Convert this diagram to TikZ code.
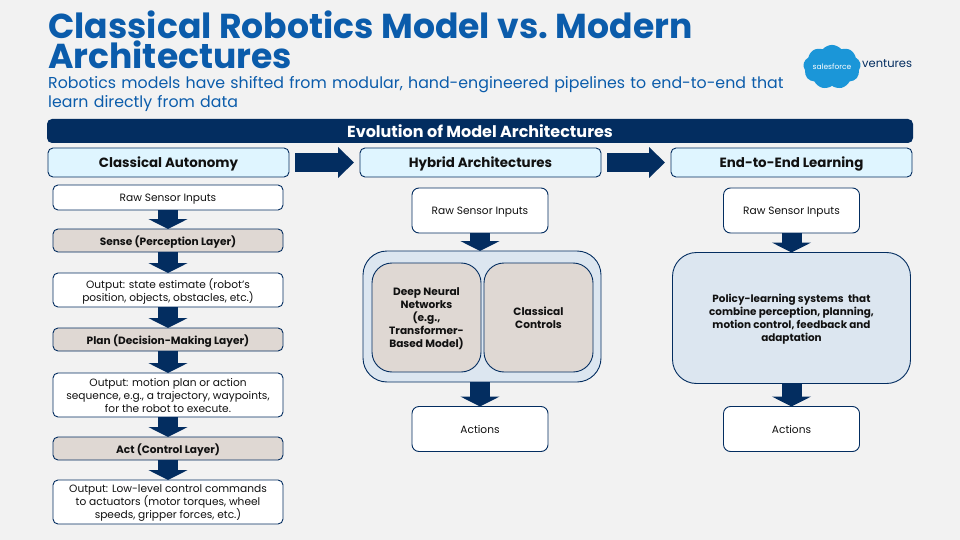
\documentclass[tikz,border=0pt]{standalone}
\usepackage{fontspec}
\setmainfont{Poppins}
\usepackage{xcolor}
\usetikzlibrary{arrows.meta,positioning,shapes.symbols}
\definecolor{navy}{HTML}{032D60}
\definecolor{titleblue}{HTML}{0B5CAB}
\definecolor{headfill}{HTML}{DFF5FF}
\definecolor{taupe}{HTML}{DFD8D3}
\definecolor{paleblue}{HTML}{DCE6F0}
\definecolor{cloudblue}{HTML}{1B96D8}
\definecolor{inktext}{HTML}{111111}

\begin{document}
\begin{tikzpicture}[
  x=1pt,y=-1pt,
  node distance=19pt,
  textbox/.style={inner sep=0pt,align=left,anchor=north west},
  box/.style={draw=navy,line width=0.9pt,rounded corners=5pt,align=center,inner sep=0pt,outer sep=0pt,text depth=0pt,text=inktext,font=\fontsize{10.6}{13}\selectfont},
  inbox/.style={box,fill=white,minimum width=230pt},
  layer/.style={box,fill=taupe,minimum width=230pt,minimum height=23pt,font=\fontsize{10.6}{13}\selectfont\bfseries},
  head/.style={box,fill=headfill,minimum width=241pt,minimum height=29pt,font=\fontsize{13.4}{16}\selectfont\bfseries},
  endbox/.style={box,fill=white,rounded corners=7pt,minimum width=136pt,minimum height=45pt},
  outer/.style={box,fill=paleblue,rounded corners=24pt,minimum width=238pt,minimum height=131pt},
  inner/.style={box,fill=taupe,rounded corners=20pt,minimum width=109pt,minimum height=109pt,font=\fontsize{10.6}{13}\selectfont\bfseries},
  downarrow/.style={navy,line width=20pt,-{Triangle[length=10pt,width=39pt]}},
  rightarrow/.style={navy,line width=19pt,shorten <=6pt,shorten >=6pt,-{Triangle[length=16pt,width=30pt]}}
]
\fill[fill=black!5] (0,0) rectangle (960,540);
\useasboundingbox (0,0) rectangle (960,540);

% heading
\node[textbox,text width=750pt,text=titleblue,font=\fontsize{34.6}{30}\selectfont\bfseries] (title) at (48,11) {\spaceskip=7.5pt Classical Robotics Model vs.\ Modern\\Architectures};
\node[textbox,text width=750pt,text=titleblue,font=\fontsize{15.8}{19.5}\selectfont] (subtitle) at (48,76) {Robotics models have shifted from modular, hand-engineered pipelines to end-to-end that\\learn directly from data};

% logo
\node[cloud,cloud puffs=9,cloud puff arc=100,aspect=1.45,fill=cloudblue,text=white,inner sep=0pt,minimum width=55pt,minimum height=35pt,font=\fontsize{7.5}{9}\selectfont] (logo) at (832,67) {salesforce};
\node[text=navy,inner sep=0pt,anchor=west,font=\fontsize{11.5}{14}\selectfont] (ventures) at (862,64) {ventures};

% banner
\node[fill=navy,text=white,rounded corners=5pt,minimum width=866pt,minimum height=24pt,inner sep=0pt,font=\fontsize{16}{19}\selectfont\bfseries] (banner) at (480,131) {Evolution of Model Architectures};

% column heads
\node[head] (classical) at (168.5,162.5) {Classical Autonomy};
\node[head] (hybrid) at (480.5,162.5) {Hybrid Architectures};
\node[head] (learning) at (791.5,162.5) {End-to-End Learning};
\draw[rightarrow] (classical) -- (hybrid);
\draw[rightarrow] (hybrid) -- (learning);

% classical column
\node[inbox,minimum height=25pt] (rawa) at (168,197.5) {Raw Sensor Inputs};
\node[layer,below=of rawa] (sense) {Sense (Perception Layer)};
\node[inbox,minimum height=34pt,below=21pt of sense] (state) {Output: state estimate (robot’s\\position, objects, obstacles, etc.)};
\node[layer,below=21pt of state] (plan) {Plan (Decision-Making Layer)};
\node[inbox,minimum height=44pt,below=22pt of plan] (motion) {Output: motion plan or action\\sequence, e.g., a trajectory, waypoints,\\for the robot to execute.};
\node[layer,below=20pt of motion] (act) {Act (Control Layer)};
\node[inbox,minimum height=44pt,below=20pt of act] (lowlevel) {Output: Low-level control commands\\to actuators (motor torques, wheel\\speeds, gripper forces, etc.)};
\foreach \a/\b in {rawa/sense,sense/state,state/plan,plan/motion,motion/act,act/lowlevel}
  \draw[downarrow] (\a) -- (\b);

% hybrid column
\node[endbox] (rawb) at (480,210.5) {Raw Sensor Inputs};
\node[outer] (hybridbox) at (482,316.5) {};
\node[inner] (dnn) at (426.5,317.5) {Deep Neural\\Networks\\(e.g.,\\Transformer-\\Based Model)};
\node[inner] (controls) at (538.5,317.5) {Classical\\Controls};
\node[endbox] (actionsb) at (480,429) {Actions};
\draw[downarrow] (rawb) -- (rawb |- hybridbox.north);
\draw[downarrow] (hybridbox.south -| actionsb) -- (actionsb);

% end-to-end column
\node[endbox] (rawc) at (791.5,210.5) {Raw Sensor Inputs};
\node[outer] (policy) at (791.5,318) {};
\node[align=center,inner sep=0pt,text depth=0pt,text=inktext,font=\fontsize{10.4}{13}\selectfont\bfseries] (policytext) at (791.5,318) {Policy-learning systems \ that\\combine perception, planning,\\motion control, feedback and\\adaptation};
\node[endbox] (actionsc) at (791.5,429) {Actions};
\draw[downarrow] (rawc) -- (policy);
\draw[downarrow] (policy) -- (actionsc);
\end{tikzpicture}
\end{document}
